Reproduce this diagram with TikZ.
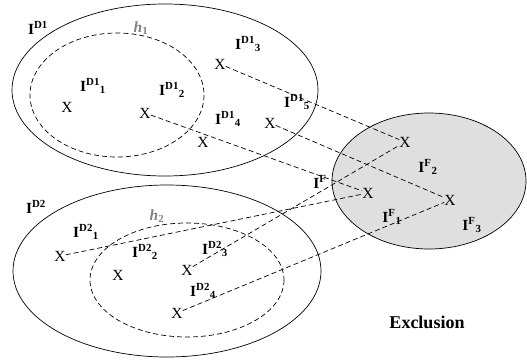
\documentclass[tikz,border=0pt]{standalone}
\usepackage{fontspec}
\setmainfont{Liberation Serif}
\usepackage{xcolor}
\usepackage{tikz}
\usetikzlibrary{arrows}

\newcommand{\setI}[2]{\textbf{I\textsuperscript{#1}\textsubscript{#2}}}
\newcommand{\hlab}[1]{\textbf{\textit{h}\textsubscript{#1}}}

\begin{document}
\begin{tikzpicture}[x=1pt,y=-1pt,
	lab/.style={font=\fontsize{15.5}{18}\selectfont,inner sep=1pt},
	pt/.style={font=\fontsize{15.5}{18}\selectfont,inner sep=0pt},
	lnk/.style={dash pattern=on 5pt off 3pt,line width=0.7pt}]
	\useasboundingbox (0,0) rectangle (527,361);
	%
	%  SETS
	%
	\draw[fill=gray!25,line width=0.7pt] (429,181) ellipse (97 and 68);
	\draw[line width=0.7pt] (165,90) ellipse (153 and 86);
	\draw[line width=0.7pt] (167,271) ellipse (154 and 86);
	\draw[lnk] (117,95) ellipse (87 and 62);
	\draw[lnk] (187,280) ellipse (97 and 57);
	%
	%  POINTS
	%
	\node[pt] (A) at (67,107) {X};
	\node[pt] (B) at (145,113) {X};
	\node[pt] (C) at (220,64) {X};
	\node[pt] (D) at (203,142) {X};
	\node[pt] (E) at (270,123) {X};
	\node[pt] (F) at (60,256) {X};
	\node[pt] (G) at (118,275) {X};
	\node[pt] (H) at (187,270) {X};
	\node[pt] (I) at (177,313) {X};
	\node[pt] (J) at (405,142) {X};
	\node[pt] (K) at (368,193) {X};
	\node[pt] (L) at (450,200) {X};
	%
	%  LABELS
	%
	\node[lab] (M) at (38,28) {\textbf{I\textsuperscript{D1}}};
	\node[lab,text=gray] (N) at (141,28) {\hlab{1}};
	\node[lab] (O) at (93,86) {\setI{D1}{1}};
	\node[lab] (P) at (172,90) {\setI{D1}{2}};
	\node[lab] (Q) at (248,44) {\setI{D1}{3}};
	\node[lab] (R) at (228,119) {\setI{D1}{4}};
	\node[lab] (S) at (297,102) {\setI{D1}{5}};
	\node[lab] (T) at (36,207) {\textbf{I\textsuperscript{D2}}};
	\node[lab,text=gray] (U) at (157,216) {\hlab{2}};
	\node[lab] (V) at (86,232) {\setI{D2}{1}};
	\node[lab] (W) at (145,252) {\setI{D2}{2}};
	\node[lab] (X) at (215,249) {\setI{D2}{3}};
	\node[lab] (Y) at (203,291) {\setI{D2}{4}};
	\node[lab] (Z) at (320,182) {\textbf{I\textsuperscript{F}}};
	\node[lab] (A1) at (392,217) {\setI{F}{1}};
	\node[lab] (A2) at (428,167) {\setI{F}{2}};
	\node[lab] (A3) at (472,225) {\setI{F}{3}};
	\node[font=\fontsize{18}{21}\selectfont\bfseries] (A4) at (427,322) {Exclusion};
	%
	\path[lnk]
	(C) edge (J)
	(B) edge (K)
	(E) edge (L)
	(F) edge (K)
	(H) edge (J)
	(I) edge (L);
\end{tikzpicture}
\end{document}
